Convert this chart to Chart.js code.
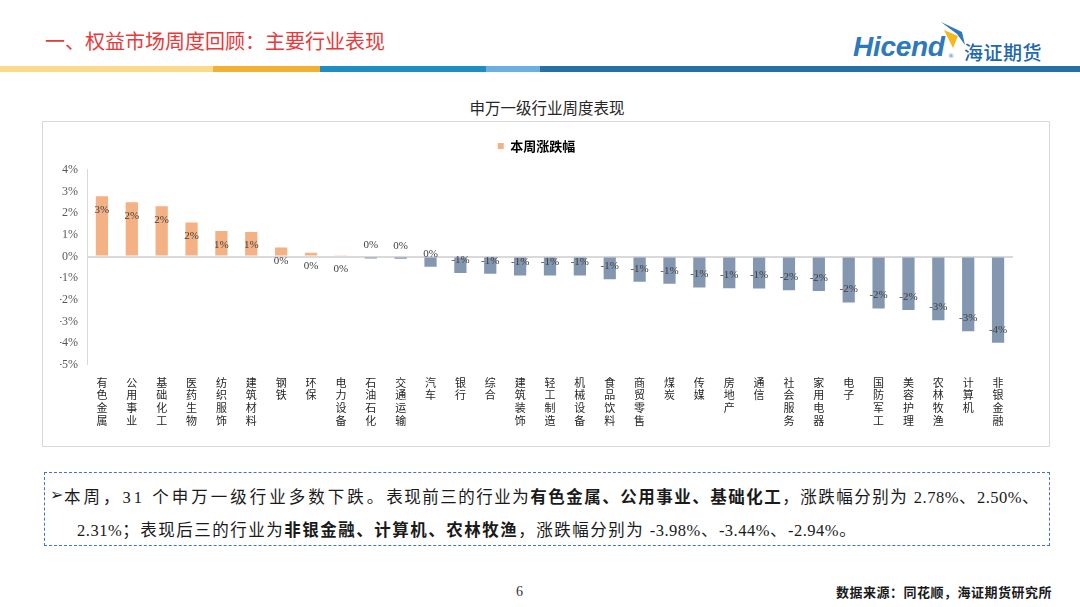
<!DOCTYPE html>
<html>
<head>
<meta charset="utf-8">
<script src="https://cdn.jsdelivr.net/npm/chart.js@4.4.1/dist/chart.umd.min.js"></script>
<style>
  html, body { margin:0; padding:0; background:#fff; }
  body { width:1080px; height:607px; position:relative; overflow:hidden; font-family:"Noto Sans CJK SC", sans-serif; }
  .abs { position:absolute; white-space:nowrap; }
  #pageTitle { left:45px; top:28px; font-size:20px; line-height:26px; color:#E83A3A; }
  .stripe { position:absolute; top:66px; height:6px; }
  #logoText { left:853px; top:30px; font-family:"Liberation Sans", "DejaVu Sans", sans-serif; font-style:italic; font-weight:bold; font-size:28px; line-height:34px; color:#2E78BE; letter-spacing:-0.3px; }
  #logoR { left:948px; top:52px; font-size:6px; color:#2E78BE; font-family:"DejaVu Sans"; }
  #logoCn { left:964px; top:40px; font-size:19px; line-height:24px; color:#2067AE; font-weight:500; letter-spacing:0.5px; }
  #chartTitle { left:447px; width:200px; text-align:center; top:97px; font-size:15.5px; line-height:20px; color:#262626; }
  #chartBox { position:absolute; left:42px; top:121px; width:1008px; height:326px; border:1px solid #D9D9D9; box-sizing:border-box; }
  #chartWrap { position:absolute; left:0; top:0; width:1006px; height:324px; }
  #noteBox { position:absolute; left:44px; top:472px; width:1006px; height:74px; border:1px dashed #4472C4; box-sizing:border-box; }
  .noteLine { position:absolute; white-space:nowrap; font-family:"Liberation Serif", "Noto Sans CJK SC", serif; font-size:16.5px; line-height:22px; color:#1a1a1a; letter-spacing:1.5px; }
  .noteLine b { font-family:"Noto Sans CJK SC", sans-serif; font-weight:bold; }
  .noteLine .lat { letter-spacing:0.5px; }
  .noteLine .wide { letter-spacing:3px; }
  #arrow { left:5px; top:11px; font-family:"DejaVu Sans"; font-size:16px; line-height:22px; color:#222; }
  #line1 { left:19px; top:12px; }
  #line2 { left:32px; top:45px; }
  #pageNo { left:516px; top:582px; font-family:"Liberation Serif"; font-size:14px; line-height:20px; color:#333; }
  #source { right:28px; top:583px; font-size:13px; line-height:18px; color:#1a1a1a; font-weight:bold; letter-spacing:0.5px; }
</style>
</head>
<body>
<div id="pageTitle" class="abs">一、权益市场周度回顾：主要行业表现</div>
<div id="logoText" class="abs">Hicend</div>
<div id="logoR" class="abs">®</div>
<svg class="abs" style="left:936px;top:18px;" width="32" height="32" viewBox="0 0 32 32">
  <polygon points="5,4 26,14 29,27 21,16" fill="#2E78BE"/>
  <polygon points="8,12 22,18 17,30" fill="#F5B81C"/>
</svg>
<div id="logoCn" class="abs">海证期货</div>
<div class="stripe" style="left:0;width:213px;background:#F8DC8C;"></div>
<div class="stripe" style="left:213px;width:107px;background:#F2B134;"></div>
<div class="stripe" style="left:320px;width:166px;background:#1F8CC4;"></div>
<div class="stripe" style="left:486px;width:54px;background:#6AB1E1;"></div>
<div class="stripe" style="left:540px;width:540px;background:#2670A6;"></div>

<div id="chartTitle" class="abs">申万一级行业周度表现</div>
<div id="chartBox"><div id="chartWrap"><canvas id="c"></canvas></div></div>

<div id="noteBox">
  <div id="arrow" class="abs">➢</div>
  <div id="line1" class="noteLine"><span class="wide">本周，31 个申万一级行业多数下跌。</span>表现前三的行业为<b>有色金属、公用事业、基础化工</b>，涨跌幅分别为 <span class="lat">2.78%</span>、<span class="lat">2.50%</span>、</div>
  <div id="line2" class="noteLine"><span class="lat">2.31%</span>；表现后三的行业为<b>非银金融、计算机、农林牧渔</b>，涨跌幅分别为 <span class="lat">-3.98%</span>、<span class="lat">-3.44%</span>、<span class="lat">-2.94%</span>。</div>
</div>
<div id="pageNo" class="abs">6</div>
<div id="source" class="abs">数据来源：同花顺，海证期货研究所</div>

<script>
// ---- data ----
const categories = ['有色金属','公用事业','基础化工','医药生物','纺织服饰','建筑材料','钢铁','环保','电力设备','石油石化','交通运输','汽车','银行','综合','建筑装饰','轻工制造','机械设备','食品饮料','商贸零售','煤炭','传媒','房地产','通信','社会服务','家用电器','电子','国防军工','美容护理','农林牧渔','计算机','非银金融'];
const weeklyChange = [2.78,2.50,2.31,1.57,1.17,1.13,0.42,0.17,0.06,-0.09,-0.10,-0.47,-0.76,-0.80,-0.87,-0.88,-0.88,-1.05,-1.16,-1.26,-1.43,-1.46,-1.47,-1.56,-1.59,-2.12,-2.40,-2.47,-2.94,-3.44,-3.98];
const dataLabels = ['3%','2%','2%','2%','1%','1%','0%','0%','0%','0%','0%','0%','-1%','-1%','-1%','-1%','-1%','-1%','-1%','-1%','-1%','-1%','-1%','-2%','-2%','-2%','-2%','-2%','-3%','-3%','-4%'];
const seriesName = '本周涨跌幅';
const yMin = -5, yMax = 4;

const POS = '#F4B183', NEG = '#8497B0';

const barLabelPlugin = {
  id: 'barLabels',
  afterDatasetsDraw(chart) {
    const ctx = chart.ctx;
    const meta = chart.getDatasetMeta(0);
    ctx.save();
    ctx.font = '11px "Liberation Serif"';
    ctx.fillStyle = '#404040';
    ctx.textAlign = 'center';
    ctx.textBaseline = 'middle';
    meta.data.forEach((bar, i) => {
      const v = weeklyChange[i];
      const y = bar.y + (v >= 0 ? 13.5 : -13);
      ctx.fillText(dataLabels[i], bar.x, y);
    });
    ctx.restore();
  }
};

// add spacing below the legend
const legendSpacer = {
  id: 'legendSpacer',
  beforeInit(chart) {
    const lg = chart.legend;
    if (!lg) return;
    const origFit = lg.fit;
    lg.fit = function () { origFit.call(this); this.height += 7.2; };
  }
};

const chart = new Chart(document.getElementById('c'), {
  type: 'bar',
  data: {
    labels: categories,
    datasets: [{
      label: seriesName,
      data: weeklyChange,
      backgroundColor: weeklyChange.map(v => v >= 0 ? POS : NEG),
      borderWidth: 0,
      barPercentage: 0.41,
      categoryPercentage: 1.0
    }]
  },
  options: {
    responsive: true,
    maintainAspectRatio: false,
    animation: false,
    layout: { padding: { left: 17, right: 36, top: 7.5, bottom: 0 } },
    plugins: {
      tooltip: { enabled: false },
      legend: {
        position: 'top',
        labels: {
          boxWidth: 6, boxHeight: 6, padding: 10,
          font: { family: '"Noto Sans CJK SC"', size: 13, weight: 'bold' },
          color: '#333',
          generateLabels: () => [{ text: seriesName, fillStyle: POS, strokeStyle: POS, lineWidth: 0, hidden: false, datasetIndex: 0 }]
        }
      }
    },
    scales: {
      x: {
        grid: { display: false, drawTicks: false },
        border: { display: false },
        afterFit: s => { s.height = 81; },
        ticks: {
          autoSkip: false, maxRotation: 0, minRotation: 0, padding: 11,
          color: '#262626',
          font: { family: '"Noto Sans CJK SC"', size: 11, lineHeight: 1.16 },
          callback: (v, i) => Array.from(categories[i])
        }
      },
      y: {
        min: yMin, max: yMax,
        afterFit: s => { s.width = 27; },
        ticks: {
          stepSize: 1, padding: 9, color: '#595959',
          font: { family: '"Liberation Serif"', size: 12 },
          callback: v => v + '%'
        },
        grid: {
          drawTicks: false,
          color: c => (c.tick && c.tick.value === 0) ? '#D9D9D9' : 'rgba(0,0,0,0)',
          lineWidth: c => (c.tick && c.tick.value === 0) ? 2 : 0
        },
        border: { display: true, color: '#D9D9D9', width: 1 }
      }
    }
  },
  plugins: [barLabelPlugin, legendSpacer]
});
</script>
</body>
</html>
